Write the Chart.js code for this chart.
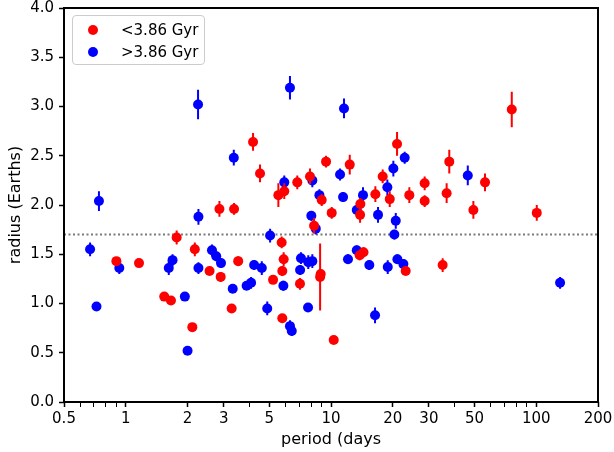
<!DOCTYPE html>
<html><head><meta charset="utf-8">
<script src="https://cdn.jsdelivr.net/npm/chart.js@4.4.0/dist/chart.umd.min.js"></script>
<style>
html,body{margin:0;padding:0;background:#fff;}
#wrap{position:relative;width:614px;height:452px;}
#legend{position:absolute;left:72px;top:15px;width:133px;height:50px;border:1px solid #cccccc;border-radius:4px;background:rgba(255,255,255,0.8);font-family:"DejaVu Sans";font-size:15px;color:#000;box-sizing:border-box;}
.item{position:absolute;left:0;height:20px;line-height:20px;white-space:nowrap;}
.dot{position:absolute;left:15px;top:5px;width:10px;height:10px;border-radius:50%;}
.lbl{position:absolute;left:48px;top:0;}
</style></head>
<body><div id="wrap"><canvas id="c" width="614" height="452"></canvas><div id="legend"></div></div>
<script>
// ---- data ----
const legendLabels = ['<3.86 Gyr', '>3.86 Gyr'];
const seriesColors = ['#ff0000', '#0000ff'];

const redPeriod = [0.90,1.16,1.54,1.66,1.77,2.11,2.17,2.56,2.86,2.90,3.28,3.37,3.53,4.17,4.51,5.22,5.54,5.75,5.79,5.79,5.88,5.92,6.85,7.06,7.90,8.27,8.85,8.91,9.01,9.46,10.08,10.31,12.34,13.8,13.86,13.90,14.4,16.45,17.86,19.33,20.98,23.12,24.08,28.6,28.6,35.0,36.6,37.7,49.4,56.3,76.0,100.6];
const redRadius = [1.43,1.41,1.07,1.03,1.67,0.76,1.55,1.33,1.96,1.27,0.95,1.96,1.43,2.64,2.32,1.24,2.10,1.62,1.33,0.85,1.45,2.14,2.23,1.20,2.29,1.79,1.27,1.30,2.05,2.44,1.92,0.63,2.41,1.49,1.90,2.01,1.52,2.11,2.29,2.06,2.62,1.33,2.10,2.22,2.04,1.39,2.12,2.44,1.95,2.23,2.97,1.92];
const redErr = [0.03,0.03,0.03,0.03,0.07,0.03,0.07,0.03,0.08,0.05,0.03,0.06,0.05,0.09,0.09,0.03,0.12,0.06,0.05,0.04,0.07,0.08,0.07,0.06,0.08,0.08,0.34,0.05,0.06,0.06,0.06,0.03,0.10,0.05,0.08,0.06,0.05,0.08,0.07,0.08,0.12,0.03,0.08,0.07,0.06,0.07,0.10,0.12,0.09,0.09,0.18,0.08];

const bluePeriod = [0.67,0.74,0.72,0.93,1.62,1.69,1.94,2.0,2.25,2.26,2.26,2.63,2.76,2.91,3.32,3.36,3.88,4.08,4.22,4.60,4.89,5.05,5.86,5.92,6.31,6.31,6.44,7.07,7.14,7.73,7.75,8.02,8.11,8.11,8.43,8.78,11.07,11.45,11.57,12.1,13.35,13.35,14.32,15.37,16.39,16.95,18.82,18.9,20.13,20.36,20.68,21.06,22.52,22.86,46.4,130.7];
const blueRadius = [1.55,2.04,0.97,1.36,1.36,1.44,1.07,0.52,3.02,1.88,1.36,1.54,1.48,1.41,1.15,2.48,1.18,1.21,1.39,1.36,0.95,1.69,1.18,2.23,3.19,0.77,0.72,1.34,1.46,0.96,1.42,1.89,2.25,1.43,1.76,2.10,2.31,2.08,2.98,1.45,1.95,1.54,2.10,1.39,0.88,1.90,2.18,1.37,2.37,1.70,1.84,1.45,1.40,2.48,2.30,1.21];
const blueErr = [0.07,0.10,0.03,0.06,0.07,0.06,0.03,0.03,0.15,0.08,0.06,0.06,0.05,0.05,0.03,0.08,0.04,0.06,0.05,0.07,0.07,0.07,0.05,0.07,0.12,0.06,0.05,0.05,0.06,0.04,0.07,0.05,0.07,0.07,0.06,0.06,0.06,0.05,0.10,0.05,0.05,0.05,0.08,0.05,0.08,0.08,0.08,0.07,0.08,0.05,0.08,0.05,0.05,0.06,0.10,0.06];

const xMajorTicks = [0.5,1,2,3,5,10,20,30,50,100,200];
const xMinorTicks = [0.6,0.7,0.8,0.9,4,6,7,8,9,40,60,70,80,90];
const yTicks = [0,0.5,1,1.5,2,2.5,3,3.5,4];
const threshold = 1.7;
const xTitle = 'period (days';
const yTitle = 'radius (Earths)';

// ---- helpers ----
function points(px, ry){ return px.map((p,i)=>({x:p, y:ry[i]})); }
function errSegments(px, ry, er){
  const d = [];
  for (let i=0;i<px.length;i++){
    d.push({x:px[i], y:ry[i]-er[i]}, {x:px[i], y:ry[i]+er[i]}, {x:px[i], y:null});
  }
  return d;
}
const allXTicks = xMajorTicks.concat(xMinorTicks).sort((a,b)=>a-b);
const FONT = 'DejaVu Sans';

const framePlugin = {
  id:'frame',
  afterDraw(chart){
    const {ctx, chartArea:a} = chart;
    ctx.save();
    ctx.strokeStyle = '#000';
    ctx.lineWidth = 2;
    ctx.strokeRect(a.left, a.top, a.right-a.left, a.bottom-a.top);
    ctx.restore();
  }
};

new Chart(document.getElementById('c'), {
  type:'scatter',
  data:{datasets:[
    {label:legendLabels[0], data:points(redPeriod, redRadius), backgroundColor:seriesColors[0], borderWidth:0, pointRadius:5, pointHoverRadius:5, order:1},
    {label:'', data:errSegments(redPeriod, redRadius, redErr), showLine:true, spanGaps:false, borderColor:seriesColors[0], borderWidth:2, pointRadius:0, order:2},
    {label:legendLabels[1], data:points(bluePeriod, blueRadius), backgroundColor:seriesColors[1], borderWidth:0, pointRadius:5, pointHoverRadius:5, order:3},
    {label:'', data:errSegments(bluePeriod, blueRadius, blueErr), showLine:true, spanGaps:false, borderColor:seriesColors[1], borderWidth:2, pointRadius:0, order:4},
    {label:'', data:[{x:xMajorTicks[0], y:threshold},{x:xMajorTicks[xMajorTicks.length-1], y:threshold}], showLine:true, borderColor:'#7a7a7a', borderWidth:2, borderDash:[2,2.5], pointRadius:0, order:5}
  ]},
  options:{
    responsive:false, animation:false, devicePixelRatio:1,
    layout:{padding:{top:8, right:16, left:0, bottom:0}},
    plugins:{legend:{display:false}, tooltip:{enabled:false}},
    scales:{
      x:{
        type:'logarithmic', min:xMajorTicks[0], max:xMajorTicks[xMajorTicks.length-1],
        afterFit(s){ s.height = 50; s.paddingLeft = 0; s.paddingRight = 0; },
        afterBuildTicks(s){ s.ticks = allXTicks.map(v=>({value:v, major:xMajorTicks.includes(v)})); },
        ticks:{autoSkip:false, maxRotation:0, minRotation:0, padding:3, color:'#000', font:{family:FONT, size:15},
          callback:(v)=> xMajorTicks.includes(v) ? String(v) : ''},
        grid:{drawOnChartArea:false, drawTicks:true, tickLength:5, tickColor:'#000',
          tickWidth:(c)=> (c.tick && c.tick.major) ? 1.5 : 1},
        border:{display:false},
        title:{display:true, text:xTitle, color:'#000', font:{family:FONT, size:16}, padding:{top:0, bottom:3}}
      },
      y:{
        type:'linear', min:yTicks[0], max:yTicks[yTicks.length-1],
        afterFit(s){ s.width = 64; s.paddingTop = 0; s.paddingBottom = 0; },
        afterBuildTicks(s){ s.ticks = yTicks.map(v=>({value:v})); },
        ticks:{padding:5, color:'#000', font:{family:FONT, size:15}, callback:(v)=> Number(v).toFixed(1)},
        grid:{drawOnChartArea:false, drawTicks:true, tickLength:5, tickColor:'#000', tickWidth:1.5},
        border:{display:false},
        title:{display:true, text:yTitle, color:'#000', font:{family:FONT, size:16}, padding:{top:6, bottom:0}}
      }
    }
  },
  plugins:[framePlugin]
});

// HTML legend built from the series names/colours
const leg = document.getElementById('legend');
legendLabels.forEach((t,i)=>{
  const it = document.createElement('div');
  it.className = 'item';
  it.style.top = (4 + i*22) + 'px';
  it.style.width = '100%';
  const d = document.createElement('span'); d.className='dot'; d.style.background = seriesColors[i];
  const l = document.createElement('span'); l.className='lbl'; l.textContent = t;
  it.appendChild(d); it.appendChild(l); leg.appendChild(it);
});
</script>
</body></html>
